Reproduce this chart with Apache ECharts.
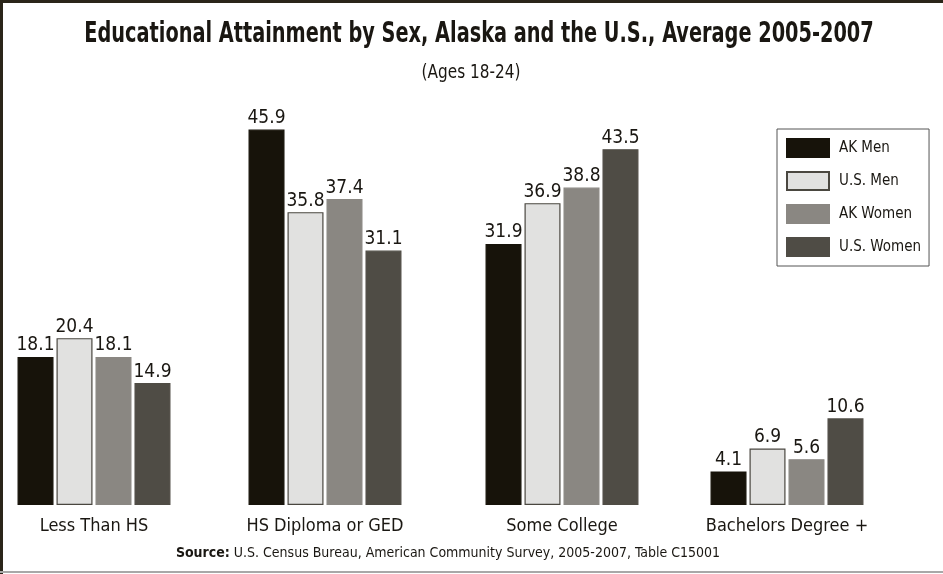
<!DOCTYPE html>
<html>
<head>
<meta charset="utf-8">
<script src="https://cdn.jsdelivr.net/npm/echarts@6/dist/echarts.min.js"></script>
<style>
  html, body { margin: 0; padding: 0; background: #fff; }
  #chart { width: 943px; height: 574px; }
</style>
</head>
<body>
<div id="chart"></div>
<script>
// Educational attainment, ages 18-24, average 2005-2007 (percent)
const categories = ['Less Than HS', 'HS Diploma or GED', 'Some College', 'Bachelors Degree +'];
const seriesNames = ['AK Men', 'U.S. Men', 'AK Women', 'U.S. Women'];
const akMen    = [18.1, 45.9, 31.9, 4.1];
const usMen    = [20.4, 35.8, 36.9, 6.9];
const akWomen  = [18.1, 37.4, 38.8, 5.6];
const usWomen  = [14.9, 31.1, 43.5, 10.6];
const seriesValues = [akMen, usMen, akWomen, usWomen];

const FONT = '"DejaVu Sans Condensed", "Liberation Sans Narrow", sans-serif';
const INK = '#1a1712';
const colors = ['#17130a', '#e1e1e0', '#8a8782', '#4f4c45'];
const borders = ['#17130a', '#4a4740', '#8a8782', '#4f4c45'];

// each category group gets its own grid so groups can sit at their own centres
const groupCenters = [94, 325, 562, 787];
const groupWidth = 160;

const grids = [], xAxes = [], yAxes = [], series = [];
categories.forEach((cat, g) => {
  grids.push({ left: groupCenters[g] - groupWidth / 2, width: groupWidth, top: 96, bottom: 69 });
  xAxes.push({
    type: 'category', gridIndex: g, data: [cat],
    axisLine: { show: false }, axisTick: { show: false },
    axisLabel: { fontFamily: FONT, fontSize: 18, color: INK, margin: 12 }
  });
  yAxes.push({ type: 'value', gridIndex: g, min: 0, max: 50, show: false, splitLine: { show: false } });
  seriesNames.forEach((name, s) => {
    series.push({
      name: name, type: 'bar', xAxisIndex: g, yAxisIndex: g,
      data: [seriesValues[s][g]],
      barWidth: 36, barGap: '8.3%',
      itemStyle: { color: colors[s], borderColor: borders[s], borderWidth: 1.2 },
      label: {
        show: true, position: 'top', distance: 2,
        fontFamily: FONT, fontSize: 19, color: INK,
        formatter: p => p.value.toFixed(1)
      }
    });
  });
});

const chart = echarts.init(document.getElementById('chart'), null, { renderer: 'canvas' });
chart.setOption({
  animation: false,
  backgroundColor: '#ffffff',
  legend: {
    data: seriesNames,
    orient: 'vertical',
    left: 777, top: 129,
    padding: [9, 8, 9, 9],
    borderColor: '#555', borderWidth: 1,
    itemWidth: 42, itemHeight: 18, itemGap: 13,
    icon: 'rect',
    textStyle: { fontFamily: FONT, fontSize: 15, color: INK, padding: [0, 0, 0, 5] }
  },
  grid: grids,
  xAxis: xAxes,
  yAxis: yAxes,
  series: series,
  graphic: [
    // frame: heavy rule along top and left, light rule at the bottom
    { type: 'rect', shape: { x: 0, y: 0, width: 943, height: 3 }, style: { fill: '#2a2519' }, silent: true },
    { type: 'rect', shape: { x: 0, y: 0, width: 3, height: 574 }, style: { fill: '#2a2519' }, silent: true },
    { type: 'rect', shape: { x: 0, y: 571, width: 943, height: 2 }, style: { fill: '#a8a8a8' }, silent: true },
    // title, horizontally compressed for a condensed look
    {
      type: 'text', x: 479, y: 34, scaleX: 0.74,
      style: {
        text: 'Educational Attainment by Sex, Alaska and the U.S., Average 2005-2007',
        fontFamily: FONT, fontSize: 29, fontWeight: 'bold', fill: INK,
        align: 'center', verticalAlign: 'middle'
      }
    },
    {
      type: 'text', x: 471, y: 73, scaleX: 0.85,
      style: {
        text: '(Ages 18-24)',
        fontFamily: FONT, fontSize: 20, fill: INK,
        align: 'center', verticalAlign: 'middle'
      }
    },
    {
      type: 'text', x: 448, y: 553,
      style: {
        text: '{b|Source:} U.S. Census Bureau, American Community Survey, 2005-2007, Table C15001',
        fontFamily: FONT, fontSize: 14, fill: INK,
        align: 'center', verticalAlign: 'middle',
        rich: { b: { fontFamily: FONT, fontSize: 14, fontWeight: 'bold', fill: INK } }
      }
    }
  ]
});
</script>
</body>
</html>
